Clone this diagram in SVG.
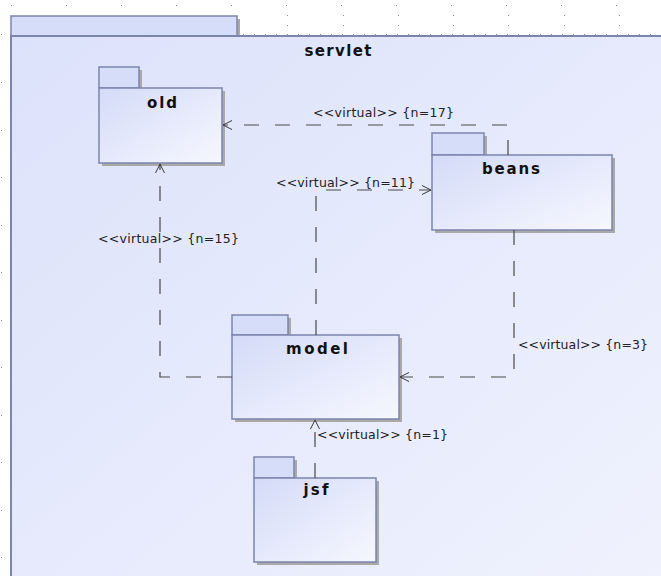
<svg xmlns="http://www.w3.org/2000/svg" width="661" height="576" viewBox="0 0 661 576">
  <defs>
    <linearGradient id="pkgFill" x1="0" y1="0" x2="1" y2="1">
      <stop offset="0" stop-color="#d4dbf8"/>
      <stop offset="1" stop-color="#f6f7fe"/>
    </linearGradient>
    <linearGradient id="outerFill" x1="0" y1="0" x2="1" y2="1">
      <stop offset="0" stop-color="#dce2fb"/>
      <stop offset="1" stop-color="#f0f2fd"/>
    </linearGradient>
    <marker id="open" markerWidth="12" markerHeight="12" refX="10" refY="6" orient="auto" markerUnits="userSpaceOnUse">
      <path d="M1,1.5 L10,6 L1,10.5" fill="none" stroke="#3a3a3a" stroke-width="1"/>
    </marker>
    <pattern id="gridTop" x="11" y="0" width="55" height="11" patternUnits="userSpaceOnUse">
      <rect x="0" y="5" width="1" height="1" fill="#8a8a8a"/>
    </pattern>
  </defs>
  <style>
    .tab { fill: #d6ddf9; stroke: #7c85ad; stroke-width: 1.5; }
    .body { fill: url(#pkgFill); stroke: #7c85ad; stroke-width: 1.5; }
    .shadow { fill: #a9a9a9; }
    .name { font-family: "DejaVu Sans", Verdana, sans-serif; font-weight: bold; font-size: 15px; fill: #111; text-anchor: middle; }
    .lbl { font-family: "DejaVu Sans", Verdana, sans-serif; font-size: 12.5px; fill: #222; }
    .dep { fill: none; stroke: #4a4a4a; stroke-width: 1.2; stroke-dasharray: 15 16; }
    .dot { fill: #8a8a8a; }
  </style>

  <rect width="661" height="576" fill="#ffffff"/>

  <!-- background grid -->
  <g id="grid">
    <rect x="0" y="0" width="661" height="8" fill="url(#gridTop)"/>
    <g class="dot">
      <rect x="287" y="15" width="1" height="1"/><rect x="287" y="25" width="1" height="1"/>
      <rect x="343" y="15" width="1" height="1"/><rect x="343" y="25" width="1" height="1"/>
      <rect x="398" y="15" width="1" height="1"/><rect x="398" y="25" width="1" height="1"/>
      <rect x="453" y="15" width="1" height="1"/><rect x="453" y="25" width="1" height="1"/>
      <rect x="508" y="15" width="1" height="1"/><rect x="508" y="25" width="1" height="1"/>
      <rect x="564" y="15" width="1" height="1"/><rect x="564" y="25" width="1" height="1"/>
      <rect x="619" y="15" width="1" height="1"/><rect x="619" y="25" width="1" height="1"/>
      <rect x="1" y="34" width="1" height="1"/><rect x="1" y="82" width="1" height="1"/>
      <rect x="1" y="130" width="1" height="1"/><rect x="1" y="177" width="1" height="1"/>
      <rect x="1" y="225" width="1" height="1"/><rect x="1" y="272" width="1" height="1"/>
      <rect x="1" y="320" width="1" height="1"/><rect x="1" y="367" width="1" height="1"/>
      <rect x="1" y="415" width="1" height="1"/><rect x="1" y="462" width="1" height="1"/>
      <rect x="1" y="510" width="1" height="1"/><rect x="1" y="557" width="1" height="1"/>
    </g>
    <line x1="243" y1="34.5" x2="661" y2="34.5" stroke="#8a8a8a" stroke-width="1" stroke-dasharray="1 10"/>
  </g>

  <!-- servlet package (outer frame) -->
  <g id="servlet">
    <rect x="237" y="19" width="3" height="17" class="shadow"/>
    <rect x="11" y="16" width="226" height="20" class="tab"/>
    <rect x="11" y="36" width="660" height="560" fill="url(#outerFill)" stroke="#7c85ad" stroke-width="2"/>
    <text x="338" y="56" class="name" textLength="67" lengthAdjust="spacing">servlet</text>
  </g>

  <!-- inner packages -->
  <g id="old">
    <rect x="139" y="70" width="3" height="18" class="shadow"/>
    <rect x="102" y="91" width="123" height="75" class="shadow"/>
    <rect x="99" y="67" width="40" height="21" class="tab"/>
    <rect x="99" y="88" width="123" height="75" class="body"/>
    <text x="162" y="108" class="name" textLength="30" lengthAdjust="spacing">old</text>
  </g>

  <g id="beans">
    <rect x="484" y="136" width="3" height="19" class="shadow"/>
    <rect x="435" y="158" width="180" height="75" class="shadow"/>
    <rect x="432" y="133" width="52" height="22" class="tab"/>
    <rect x="432" y="155" width="180" height="75" class="body"/>
    <text x="511" y="174" class="name" textLength="58" lengthAdjust="spacing">beans</text>
  </g>

  <g id="model">
    <rect x="288" y="318" width="3" height="17" class="shadow"/>
    <rect x="235" y="338" width="167" height="84" class="shadow"/>
    <rect x="232" y="315" width="56" height="20" class="tab"/>
    <rect x="232" y="335" width="167" height="84" class="body"/>
    <text x="317" y="354" class="name" textLength="62" lengthAdjust="spacing">model</text>
  </g>

  <g id="jsf">
    <rect x="294" y="460" width="3" height="18" class="shadow"/>
    <rect x="257" y="481" width="122" height="84" class="shadow"/>
    <rect x="254" y="457" width="40" height="21" class="tab"/>
    <rect x="254" y="478" width="122" height="84" class="body"/>
    <text x="316" y="495" class="name" textLength="25" lengthAdjust="spacing">jsf</text>
  </g>

  <!-- dependencies -->
  <g id="connectors">
    <polyline class="dep" points="508,155 508,125 223,125" marker-end="url(#open)"/>
    <polyline class="dep" points="316,335 316,190 431,190" marker-end="url(#open)"/>
    <polyline class="dep" points="232,377 160,377 160,164" marker-end="url(#open)"/>
    <polyline class="dep" points="514,230 514,377 400,377" marker-end="url(#open)"/>
    <polyline class="dep" points="315,478 315,420" marker-end="url(#open)"/>

    <text x="313" y="117" class="lbl" textLength="141" lengthAdjust="spacing">&lt;&lt;virtual&gt;&gt; {n=17}</text>
    <text x="276" y="187" class="lbl" textLength="139" lengthAdjust="spacing">&lt;&lt;virtual&gt;&gt; {n=11}</text>
    <text x="98" y="243" class="lbl" textLength="141" lengthAdjust="spacing">&lt;&lt;virtual&gt;&gt; {n=15}</text>
    <text x="518" y="349" class="lbl" textLength="130" lengthAdjust="spacing">&lt;&lt;virtual&gt;&gt; {n=3}</text>
    <text x="317" y="439" class="lbl" textLength="131" lengthAdjust="spacing">&lt;&lt;virtual&gt;&gt; {n=1}</text>
  </g>
</svg>
